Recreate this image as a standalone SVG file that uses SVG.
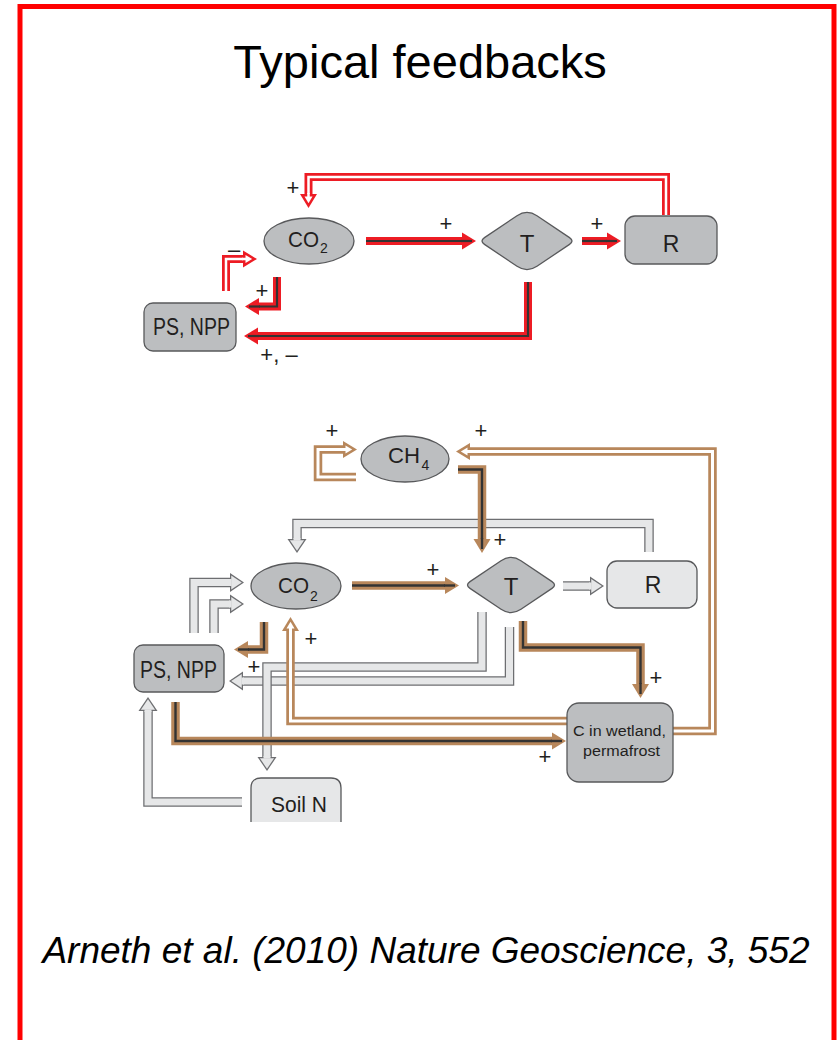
<svg xmlns="http://www.w3.org/2000/svg" xmlns:xlink="http://www.w3.org/1999/xlink" width="838" height="1040" viewBox="0 0 838 1040">
<style>
.rb{stroke:#ed1c24;stroke-width:8;fill:none;stroke-linejoin:miter}
.rc{stroke:#333;stroke-width:2.2;fill:none;stroke-linejoin:miter}
.rw{stroke:#fff;stroke-width:2.5;fill:none;stroke-linejoin:miter}
.bb{stroke:#b8875b;stroke-width:8.5;fill:none;stroke-linejoin:miter}
.bc{stroke:#333;stroke-width:2.4;fill:none;stroke-linejoin:miter}
.bw{stroke:#fff;stroke-width:3;fill:none;stroke-linejoin:miter}
.gb{stroke:#6d6e71;stroke-width:9.5;fill:none;stroke-linejoin:miter}
.gw{stroke:#e6e7e8;stroke-width:7;fill:none;stroke-linejoin:miter}
.nd{fill:#bcbec0;stroke:#58595b;stroke-width:1.3}
.nl{fill:#e6e7e8;stroke:#58595b;stroke-width:1.3}
.lb{font-family:"Liberation Sans",Arial,sans-serif;fill:#231f20}
.pl{font-family:"Liberation Sans",Arial,sans-serif;fill:#231f20;text-anchor:middle}
</style>
<defs>
<g id="hRS"><polygon points="1,0 -13,-8.5 -13,8.5" fill="#ed1c24"/><line x1="-14" y1="0" x2="-3" y2="0" stroke="#333" stroke-width="2.2"/></g>
<g id="hBS"><polygon points="1,0 -13,-8.5 -13,8.5" fill="#b8875b"/><line x1="-14" y1="0" x2="-3" y2="0" stroke="#333" stroke-width="2.4"/></g>
<g id="hRH"><polygon points="1,0 -13,-8.5 -13,8.5" fill="#ed1c24"/><polygon points="-3.8,0 -10.5,-4 -10.5,4" fill="#fff"/><rect x="-14" y="-1.25" width="4" height="2.5" fill="#fff"/></g>
<g id="hBH"><polygon points="1,0 -13,-8.5 -13,8.5" fill="#b8875b"/><polygon points="-3.8,0 -10.5,-4 -10.5,4" fill="#fff"/><rect x="-14" y="-1.5" width="4" height="3" fill="#fff"/></g>
<g id="hGH"><polygon points="1,0 -13,-9.5 -13,9.5" fill="#6d6e71"/><polygon points="-1.2,0 -11.75,-7.1 -11.75,7.1" fill="#e6e7e8"/><rect x="-14" y="-3.5" width="2.6" height="7" fill="#e6e7e8"/></g>
</defs>
<rect width="838" height="1040" fill="#fff"/>
<path d="M20,1040 V6.5 H834 V1040" stroke="#ff0000" stroke-width="5" fill="none"/>
<text x="420" y="78" font-family="'Liberation Sans',Arial,sans-serif" font-size="47" text-anchor="middle" fill="#000">Typical feedbacks</text>
<text x="426" y="963" font-family="'Liberation Sans',Arial,sans-serif" font-size="37" font-style="italic" text-anchor="middle" fill="#000">Arneth et al. (2010) Nature Geoscience, 3, 552</text>

<g id="connectors">
  <g id="c-top">
    <path class="rb" d="M666,215 V177 H308.5 V195"/><path class="rw" d="M666,215 V177 H308.5 V195"/>
    <use xlink:href="#hRH" transform="translate(308.5,207) rotate(90)"/>
    <path class="rb" d="M366,241 H463"/><path class="rc" d="M366,241 H463"/>
    <use xlink:href="#hRS" transform="translate(475,241)"/>
    <path class="rb" d="M582,241 H608"/><path class="rc" d="M582,241 H608"/>
    <use xlink:href="#hRS" transform="translate(620,241)"/>
    <path class="rb" d="M528,282 V336 H257"/><path class="rc" d="M528,282 V336 H257"/>
    <use xlink:href="#hRS" transform="translate(245,336) rotate(180)"/>
    <path class="rb" d="M277,277 V306.5 H258"/><path class="rc" d="M277,277 V306.5 H258"/>
    <use xlink:href="#hRS" transform="translate(246,306.5) rotate(180)"/>
    <path class="rb" d="M226,291 V259 H244"/><path class="rw" d="M226,291 V259 H244"/>
    <use xlink:href="#hRH" transform="translate(256,259)"/>
  </g>
  <g id="c-grey">
    <path class="gb" d="M509.5,627 V681 H242"/><path class="gw" d="M509.5,627 V681 H242"/>
    <use xlink:href="#hGH" transform="translate(230,681) rotate(180)"/>
    <path class="gb" d="M482,612 V667 H267 V758"/><path class="gw" d="M482,612 V667 H267 V758"/>
    <use xlink:href="#hGH" transform="translate(267,770) rotate(90)"/>
    <path class="gb" d="M649,552 V523.5 H297 V540"/><path class="gw" d="M649,552 V523.5 H297 V540"/>
    <use xlink:href="#hGH" transform="translate(297,552) rotate(90)"/>
    <path class="gb" d="M563,586 H591"/><path class="gw" d="M563,586 H591"/>
    <use xlink:href="#hGH" transform="translate(603,586)"/>
    <path class="gb" d="M194,633 V582.5 H231"/><path class="gw" d="M194,633 V582.5 H231"/>
    <use xlink:href="#hGH" transform="translate(243,582.5)"/>
    <path class="gb" d="M214,633 V604 H231"/><path class="gw" d="M214,633 V604 H231"/>
    <use xlink:href="#hGH" transform="translate(243,604)"/>
    <path class="gb" d="M242,802 H148 V710"/><path class="gw" d="M242,802 H148 V710"/>
    <use xlink:href="#hGH" transform="translate(148,698) rotate(-90)"/>
  </g>
  <g id="c-brown-hollow">
    <path class="bb" d="M356,477 H318 V449.5 H344"/><path class="bw" d="M356,477 H318 V449.5 H344"/>
    <use xlink:href="#hBH" transform="translate(356,449.5)"/>
    <path class="bb" d="M673,731 H712.5 V451.5 H469"/><path class="bw" d="M673,731 H712.5 V451.5 H469"/>
    <use xlink:href="#hBH" transform="translate(457,451.5) rotate(180)"/>
    <path class="bb" d="M567,721 H290.5 V630"/><path class="bw" d="M567,721 H290.5 V630"/>
    <use xlink:href="#hBH" transform="translate(290.5,618) rotate(-90)"/>
  </g>
  <g id="c-brown-solid">
    <path class="bb" d="M458,469.5 H482 V540"/><path class="bc" d="M458,469.5 H482 V540"/>
    <use xlink:href="#hBS" transform="translate(482,552) rotate(90)"/>
    <path class="bb" d="M352,585.5 H446"/><path class="bc" d="M352,585.5 H446"/>
    <use xlink:href="#hBS" transform="translate(458,585.5)"/>
    <path class="bb" d="M264,622 V649.5 H247"/><path class="bc" d="M264,622 V649.5 H247"/>
    <use xlink:href="#hBS" transform="translate(235,649.5) rotate(180)"/>
    <path class="bb" d="M175.5,702 V741 H553"/><path class="bc" d="M175.5,702 V741 H553"/>
    <use xlink:href="#hBS" transform="translate(565,741)"/>
    <path class="bb" d="M523,621 V647.5 H640.5 V685"/><path class="bc" d="M523,621 V647.5 H640.5 V685"/>
    <use xlink:href="#hBS" transform="translate(640.5,697) rotate(90)"/>
  </g>
  <g id="signs" font-size="22">
    <text class="pl" x="293" y="194.5">+</text>
    <text class="pl" x="446" y="230.5">+</text>
    <text class="pl" x="597" y="230.5">+</text>
    <text class="pl" x="234" y="257">–</text>
    <text class="pl" x="262" y="297.5">+</text>
    <text class="pl" x="279" y="362">+, –</text>
    <text class="pl" x="332" y="437.5">+</text>
    <text class="pl" x="481" y="437.5">+</text>
    <text class="pl" x="500" y="546.5">+</text>
    <text class="pl" x="433" y="576.5">+</text>
    <text class="pl" x="311" y="645.5">+</text>
    <text class="pl" x="254" y="673.5">+</text>
    <text class="pl" x="656" y="684.5">+</text>
    <text class="pl" x="545" y="763.5">+</text>
  </g>
</g>

<g id="top-co2">
  <ellipse class="nd" cx="309" cy="241" rx="45" ry="23"/>
  <text class="lb" x="288" y="247" font-size="22" textLength="31" lengthAdjust="spacingAndGlyphs">CO</text>
  <text class="lb" x="320" y="253" font-size="14">2</text>
</g>
<g id="top-t">
  <path class="nd" d="M484.47,237.65 L517.05,215.7 Q527,209 536.95,215.7 L569.53,237.65 Q574.5,241 569.53,244.35 L536.95,266.3 Q527,273 517.05,266.3 L484.47,244.35 Q479.5,241 484.47,237.65 Z"/>
  <text class="lb" x="527" y="252" font-size="24" text-anchor="middle">T</text>
</g>
<g id="top-r">
  <rect class="nd" x="625" y="216" width="92" height="48" rx="10"/>
  <text class="lb" x="671" y="252" font-size="23" text-anchor="middle">R</text>
</g>
<g id="top-psnpp">
  <rect class="nd" x="144" y="303" width="92" height="48" rx="9"/>
  <text class="lb" x="153" y="335" font-size="23" textLength="77" lengthAdjust="spacingAndGlyphs">PS, NPP</text>
</g>

<g id="bot-ch4">
  <ellipse class="nd" cx="405" cy="459" rx="44" ry="23"/>
  <text class="lb" x="388" y="463" font-size="22" textLength="32" lengthAdjust="spacingAndGlyphs">CH</text>
  <text class="lb" x="421.5" y="470" font-size="14">4</text>
</g>
<g id="bot-co2">
  <ellipse class="nd" cx="296" cy="586" rx="45" ry="23"/>
  <text class="lb" x="278" y="593" font-size="22" textLength="31" lengthAdjust="spacingAndGlyphs">CO</text>
  <text class="lb" x="310" y="601" font-size="14">2</text>
</g>
<g id="bot-t">
  <path class="nd" d="M469.97,581.65 L501.05,560.7 Q511,554 520.95,560.7 L552.03,581.65 Q557,585 552.03,588.35 L520.95,609.3 Q511,616 501.05,609.3 L469.97,588.35 Q465,585 469.97,581.65 Z"/>
  <text class="lb" x="511" y="595" font-size="24" text-anchor="middle">T</text>
</g>
<g id="bot-r">
  <rect class="nl" x="607" y="561" width="90" height="47" rx="10"/>
  <text class="lb" x="653" y="593" font-size="23" text-anchor="middle">R</text>
</g>
<g id="bot-psnpp">
  <rect class="nd" x="134" y="645" width="90" height="47" rx="9"/>
  <text class="lb" x="140" y="678" font-size="23" textLength="77" lengthAdjust="spacingAndGlyphs">PS, NPP</text>
</g>
<g id="bot-soiln">
  <path class="nl" d="M251,822 V788 Q251,778 261,778 H331 Q341,778 341,788 V822"/>
  <text class="lb" x="271" y="812" font-size="22" textLength="56" lengthAdjust="spacingAndGlyphs">Soil N</text>
</g>
<g id="bot-wetland">
  <rect class="nd" x="567" y="703" width="106" height="79" rx="12"/>
  <text class="lb" x="573" y="736" font-size="15.5" textLength="93" lengthAdjust="spacingAndGlyphs">C in wetland,</text>
  <text class="lb" x="583" y="756" font-size="15.5" textLength="77" lengthAdjust="spacingAndGlyphs">permafrost</text>
</g>
</svg>
